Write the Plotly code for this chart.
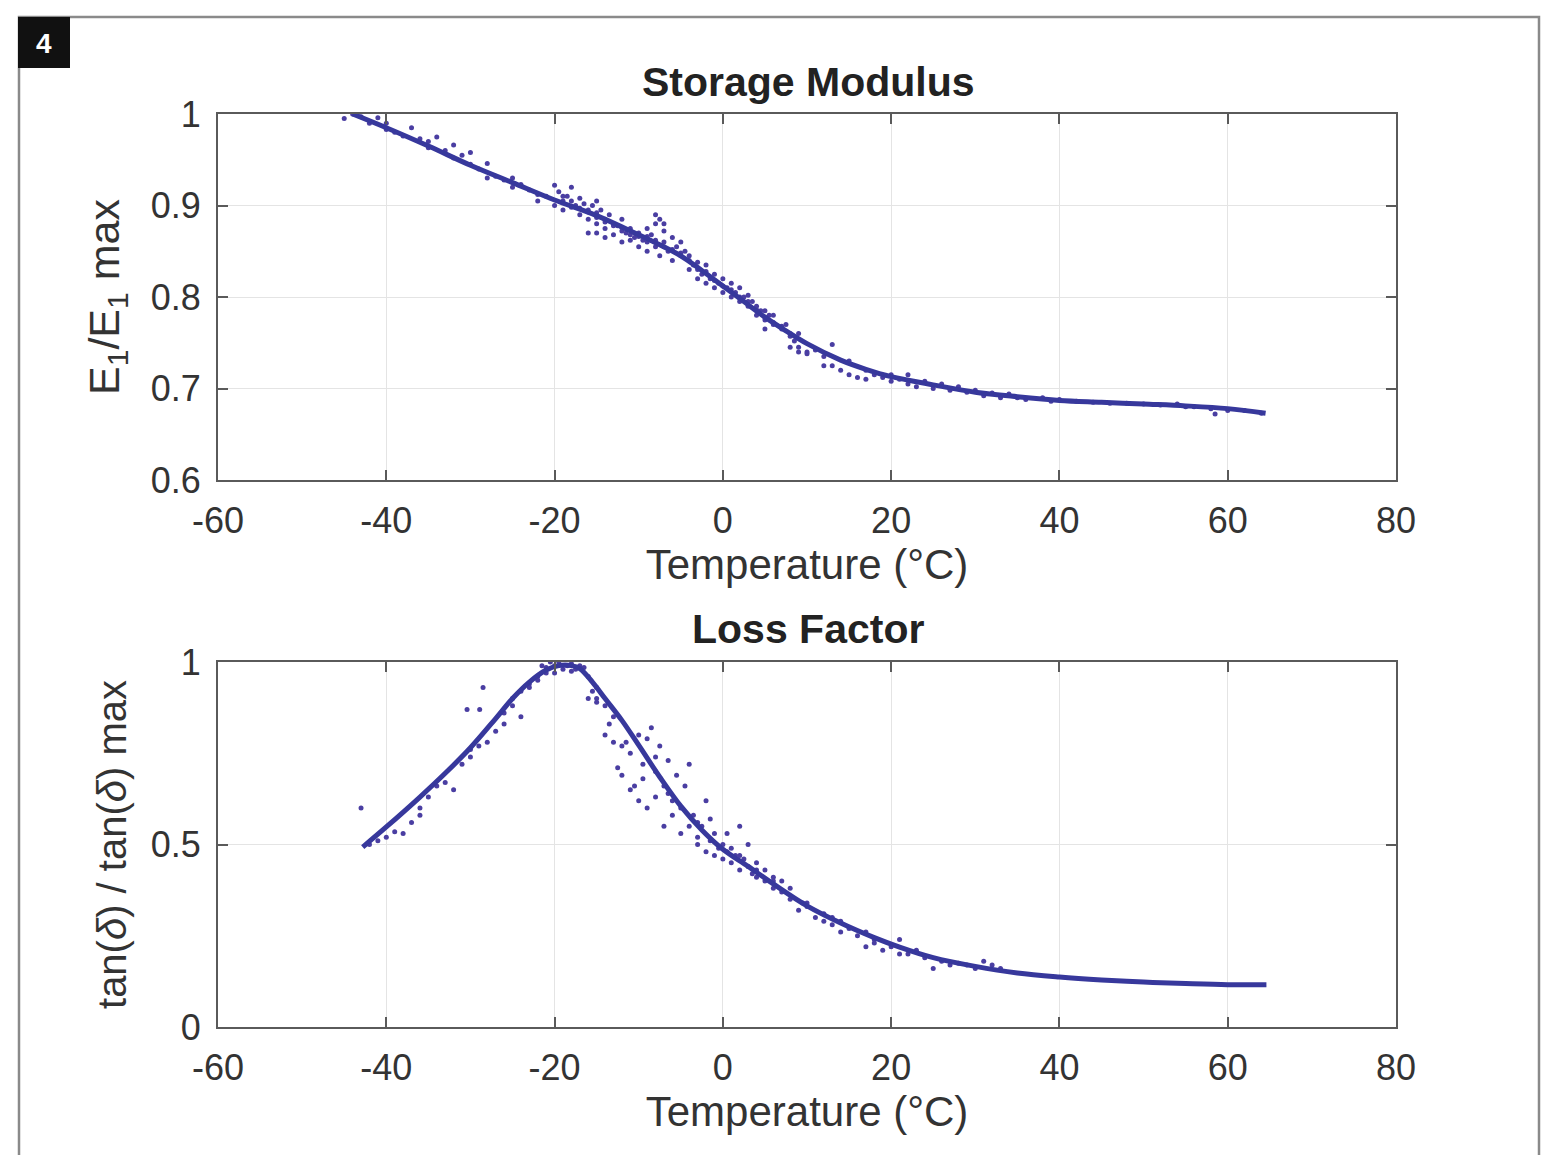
import plotly.graph_objects as go

# ---------------- data ----------------
# Storage modulus fitted curve
sm_fit_T = [-44, -40, -35, -30, -25, -20, -15, -10, -7.5, -5, -2.5, 0, 2.5, 5, 7.5, 10, 14, 17, 20, 25, 30, 35, 40, 45, 50, 55, 60, 64.5]
sm_fit_E = [1.0, 0.985, 0.965, 0.944, 0.925, 0.906, 0.889, 0.868, 0.857, 0.845, 0.829, 0.812, 0.795, 0.778, 0.763, 0.749, 0.731, 0.721, 0.713, 0.704, 0.696, 0.691, 0.687, 0.685, 0.683, 0.681, 0.678, 0.673]

# Storage modulus measured points
sm_pts = [(-45,0.995),(-44,1.0),(-43,0.997),(-42,0.99),(-41,0.996),(-40,0.99),(-40,0.983),(-39,0.98),(-38,0.976),(-37,0.985),
    (-36,0.973),(-35,0.97),(-35,0.963),(-34,0.975),(-33,0.96),(-32,0.966),(-32,0.952),(-31,0.955),(-30,0.945),(-30,0.958),
    (-29,0.94),(-28,0.946),(-28,0.93),(-27,0.932),(-26,0.928),(-25,0.93),(-25,0.92),(-24,0.923),(-23,0.917),(-22,0.912),
    (-22,0.905),(-21,0.91),(-20,0.922),(-20,0.9),(-19.5,0.915),(-19,0.905),(-19,0.895),(-18.5,0.91),(-18,0.92),(-18,0.898),
    (-17.5,0.9),(-17,0.89),(-17,0.908),(-16.5,0.902),(-16,0.885),(-16,0.895),(-16,0.87),(-15.5,0.9),(-15,0.88),(-15,0.892),
    (-15,0.905),(-14.5,0.895),(-14,0.885),(-14,0.875),(-13.5,0.89),(-13,0.88),(-13,0.868),(-12.5,0.878),(-12,0.872),(-12,0.885),
    (-12,0.86),(-11.5,0.87),(-11,0.862),(-11,0.875),(-10.5,0.865),(-10,0.87),(-10,0.855),(-9.5,0.862),(-9,0.86),(-9,0.875),
    (-8.5,0.868),(-8,0.89),(-8,0.855),(-7.5,0.885),(-7.5,0.845),(-7,0.86),(-7,0.872),(-6.5,0.85),(-6,0.865),(-6,0.84),
    (-5.5,0.855),(-5,0.86),(-5,0.845),(-4.5,0.85),(-4,0.84),(-4,0.83),(-3.5,0.835),(-3,0.83),(-3,0.82),(-2.5,0.825),
    (-2,0.835),(-2,0.815),(-1.5,0.82),(-1,0.81),(-1,0.825),(-0.5,0.815),(0,0.805),(0,0.82),(0.5,0.81),(1,0.8),
    (1,0.815),(1.5,0.805),(2,0.795),(2,0.81),(2.5,0.8),(3,0.79),(3,0.802),(3.5,0.795),(4,0.78),(4,0.79),
    (4.5,0.785),(5,0.775),(5,0.785),(5,0.765),(5.5,0.78),(6,0.77),(6,0.78),(7,0.765),(7.5,0.77),(8,0.76),(8,0.745),
    (8.5,0.752),(9,0.745),(9,0.76),(9,0.74),(10,0.74),(10,0.738),(11,0.742),(12,0.735),(12,0.725),(13,0.725),(13,0.748),
    (14,0.72),(15,0.715),(15,0.73),(16,0.712),(17,0.72),(17,0.71),(18,0.715),(19,0.712),(20,0.708),(20,0.715),
    (21,0.71),(22,0.705),(22,0.715),(23,0.702),(24,0.708),(25,0.7),(26,0.705),(27,0.698),(28,0.702),(29,0.696),
    (30,0.698),(31,0.692),(32,0.695),(33,0.69),(34,0.694),(35,0.69),(36,0.688),(38,0.69),(39,0.686),(40,0.688),
    (42,0.686),(44,0.685),(46,0.684),(48,0.684),(50,0.683),(52,0.682),(54,0.683),(55,0.68),(56,0.68),(58,0.678),
    (58.5,0.672),(60,0.676),(62,0.676),(64,0.673),
    (-19,0.91),(-18,0.905),(-17,0.897),(-16,0.893),(-15,0.887),(-14,0.882),(-13,0.878),(-12,0.876),(-11,0.868),(-10,0.866),
    (-9,0.866),(-8,0.862),(-7,0.855),(-6,0.852),(-5,0.848),(-4,0.845),(-3,0.838),(-2,0.828),(-1,0.818),(0,0.812),
    (1,0.808),(2,0.8),(3,0.795),(4,0.786),(5,0.778),(6,0.772),(7,0.768),(8,0.757),(-8,0.88),(-7,0.88),
    (-9,0.85),(-14,0.865),(-15,0.87)]
sm_pts_T = [p[0] for p in sm_pts]
sm_pts_E = [p[1] for p in sm_pts]

# Loss factor fitted curve
lf_fit_T = [-42.8, -40, -36, -33, -30, -27, -25, -23, -21, -19.5, -18, -17, -15.5, -14, -12, -10, -7.5, -5, -2.5, 0, 3, 6, 10, 14, 18, 21, 25, 30, 35, 40, 45, 50, 55, 60, 64.6]
lf_fit_L = [0.493, 0.548, 0.63, 0.695, 0.765, 0.845, 0.90, 0.945, 0.978, 0.99, 0.99, 0.982, 0.945, 0.90, 0.84, 0.772, 0.685, 0.605, 0.54, 0.487, 0.44, 0.392, 0.332, 0.285, 0.245, 0.219, 0.19, 0.166, 0.148, 0.137, 0.129, 0.123, 0.119, 0.116, 0.116]

# Loss factor measured points
lf_pts = [(-43,0.6),(-42,0.5),(-41,0.51),(-40,0.52),(-39,0.535),(-38,0.53),(-37,0.56),(-36,0.6),(-36,0.58),(-35,0.63),
    (-34,0.66),(-33,0.67),(-32,0.65),(-31,0.72),(-30,0.76),(-30,0.74),(-29,0.77),(-28.5,0.93),(-28,0.78),(-30.4,0.87),
    (-28.9,0.87),(-27,0.81),(-26,0.83),(-26,0.86),(-25,0.88),(-25,0.9),(-24,0.92),(-24,0.85),(-23,0.94),(-23,0.93),
    (-22,0.95),(-22,0.96),(-21,0.97),(-21,0.985),(-20,0.99),(-20,0.97),(-19.5,1.0),(-19,0.98),(-18.5,0.99),(-18,0.995),
    (-17.5,0.98),(-17,0.99),(-16,0.96),(-16,0.9),(-15.5,0.92),(-15,0.89),(-15,0.93),(-14,0.88),(-14,0.8),(-13,0.85),
    (-13,0.78),(-12.5,0.71),(-12,0.77),(-12,0.69),(-11,0.75),(-11,0.65),(-10.5,0.66),(-10,0.8),(-10,0.62),(-9.5,0.72),
    (-9,0.79),(-9,0.6),(-8.5,0.82),(-8,0.63),(-8,0.7),(-7.5,0.77),(-7,0.66),(-7,0.55),(-6.5,0.73),(-6,0.62),
    (-6,0.58),(-5.5,0.69),(-5,0.6),(-5,0.53),(-4.5,0.66),(-4,0.72),(-4,0.55),(-3.5,0.58),(-3,0.5),(-3,0.52),
    (-2.5,0.55),(-2,0.62),(-2,0.48),(-1.5,0.57),(-1,0.53),(-1,0.47),(-0.5,0.49),(0,0.5),(0,0.46),(0.5,0.53),
    (1,0.49),(1,0.45),(1.5,0.47),(2,0.55),(2,0.43),(2.5,0.46),(3,0.44),(3,0.5),(3.5,0.42),(4,0.41),
    (4,0.45),(5,0.4),(5,0.43),(6,0.38),(6,0.41),(7,0.37),(7,0.4),(8,0.35),(8,0.38),(9,0.32),
    (9.5,0.34),(10,0.33),(11,0.3),(12,0.29),(12,0.31),(13,0.28),(14,0.26),(14,0.29),(15,0.27),(16,0.25),
    (17,0.22),(17,0.26),(18,0.24),(19,0.21),(20,0.22),(21,0.2),(21,0.24),(22,0.2),(23,0.21),(24,0.19),
    (25,0.16),(26,0.18),(27,0.17),(28,0.175),(29,0.17),(30,0.16),(31,0.18),(32,0.17),(33,0.16),
    (-21.5,0.99),(-20.5,1.0),(-18,0.975),(-16.5,0.985),(-15,0.9),(-13.5,0.83),(-11.5,0.78),(-9.5,0.68),(-8,0.74),(-6.5,0.64),
    (-3,0.56),(-1.5,0.51),(0.5,0.48),(2,0.47),(4,0.43),(6,0.4),(10,0.34),(13,0.3),(18,0.23)]
lf_pts_T = [p[0] for p in lf_pts]
lf_pts_L = [p[1] for p in lf_pts]

x_ticks = [-60, -40, -20, 0, 20, 40, 60, 80]
x_labels = ["-60", "-40", "-20", "0", "20", "40", "60", "80"]
sm_y_ticks = [0.6, 0.7, 0.8, 0.9, 1]
sm_y_labels = ["0.6", "0.7", "0.8", "0.9", "1"]
lf_y_ticks = [0, 0.5, 1]
lf_y_labels = ["0", "0.5", "1"]

# ---------------- figure ----------------
W, H = 1549, 1163
OFF = 8                              # page body margin
FW, FH = W - 2 * OFF, H - 2 * OFF    # figure size that fits without scrollbars
L, R, T, B = 218, 1396, 114, 1027   # plot area in reference px
pw, ph = R - L, B - T

def px_x(x):
    return (x - L) / pw

def px_y(y):
    return (B - y) / ph

LINE_C = "#37389c"
PT_C = "#4a3ea2"
FONT = "Liberation Sans, Arial, sans-serif"
TXT_C = "#333333"

fig = go.Figure()
fig.add_trace(go.Scatter(x=sm_pts_T, y=sm_pts_E, mode="markers", xaxis="x", yaxis="y",
                         marker=dict(size=5, color=PT_C), showlegend=False))
fig.add_trace(go.Scatter(x=sm_fit_T, y=sm_fit_E, mode="lines", xaxis="x", yaxis="y", line_shape="spline",
                         line=dict(color=LINE_C, width=5), showlegend=False))
fig.add_trace(go.Scatter(x=lf_pts_T, y=lf_pts_L, mode="markers", xaxis="x2", yaxis="y2",
                         marker=dict(size=5, color=PT_C), showlegend=False))
fig.add_trace(go.Scatter(x=lf_fit_T, y=lf_fit_L, mode="lines", xaxis="x2", yaxis="y2", line_shape="spline",
                         line=dict(color=LINE_C, width=5), showlegend=False))

axis_common = dict(showgrid=True, gridcolor="#e4e4e4", gridwidth=1, showline=True, linecolor="#5a5a5a",
                   linewidth=2, mirror="ticks", ticks="inside", ticklen=10, tickwidth=2, tickcolor="#5a5a5a",
                   zeroline=False, tickfont=dict(family=FONT, size=36, color=TXT_C))

top_dom = [px_y(480), 1.0]
bot_dom = [0.0, px_y(662)]

fig.update_layout(
    width=FW, height=FH,
    margin=dict(l=L - OFF, r=FW - (R - OFF), t=T - OFF, b=FH - (B - OFF)),
    paper_bgcolor="white", plot_bgcolor="white",
    xaxis=dict(axis_common, domain=[0, 1], anchor="y", range=[-60, 80], tickvals=x_ticks, ticktext=x_labels,
               ticklabelstandoff=8,
               title=dict(text="Temperature (°C)", font=dict(family=FONT, size=42, color=TXT_C), standoff=4)),
    yaxis=dict(axis_common, domain=top_dom, anchor="x", range=[0.6, 1.0], tickvals=sm_y_ticks, ticktext=sm_y_labels,
               ticklabelstandoff=8,
               title=dict(text="E<sub>1</sub>/E<sub>1</sub> max", font=dict(family=FONT, size=43, color=TXT_C), standoff=18)),
    xaxis2=dict(axis_common, domain=[0, 1], anchor="y2", range=[-60, 80], tickvals=x_ticks, ticktext=x_labels,
                ticklabelstandoff=8,
                title=dict(text="Temperature (°C)", font=dict(family=FONT, size=42, color=TXT_C), standoff=4)),
    yaxis2=dict(axis_common, domain=bot_dom, anchor="x2", range=[0, 1.0], tickvals=lf_y_ticks, ticktext=lf_y_labels,
                ticklabelstandoff=8,
                title=dict(text="tan(<i>δ</i>) / tan(<i>δ</i>) max", font=dict(family=FONT, size=40, color=TXT_C), standoff=12)),
)

# Subplot titles
fig.add_annotation(text="<b>Storage Modulus</b>", xref="paper", yref="paper", x=px_x(808), y=px_y(82),
                   showarrow=False, font=dict(family=FONT, size=41, color="#222222"), xanchor="center", yanchor="middle")
fig.add_annotation(text="<b>Loss Factor</b>", xref="paper", yref="paper", x=px_x(808), y=px_y(629),
                   showarrow=False, font=dict(family=FONT, size=41, color="#222222"), xanchor="center", yanchor="middle")

# Outer frame and figure number box
fig.add_shape(type="rect", xref="paper", yref="paper", x0=px_x(19), x1=px_x(1539), y0=px_y(1175), y1=px_y(17),
              line=dict(color="#8a8a8a", width=2.5), fillcolor="rgba(0,0,0,0)", layer="below")
fig.add_shape(type="rect", xref="paper", yref="paper", x0=px_x(18), x1=px_x(70), y0=px_y(68), y1=px_y(17),
              line=dict(color="#111111", width=0), fillcolor="#111111")
fig.add_annotation(text="<b>4</b>", xref="paper", yref="paper", x=px_x(44), y=px_y(43), showarrow=False,
                   font=dict(family=FONT, size=28, color="white"), xanchor="center", yanchor="middle")

fig.write_html("out.html")
